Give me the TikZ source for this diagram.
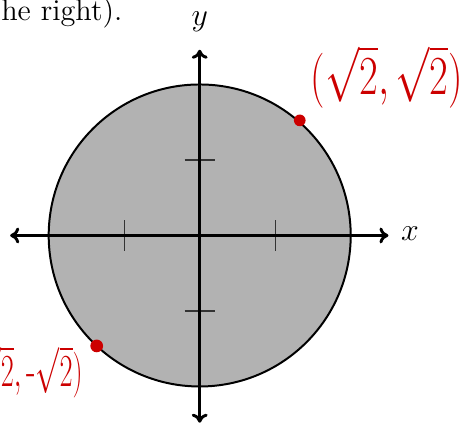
\documentclass[tikz,border=0pt]{standalone}
\usetikzlibrary{arrows.meta}
\definecolor{inkred}{RGB}{204,0,0}
\begin{document}
\begin{tikzpicture}[x=1cm,y=1cm,
  axis/.style={line width=1.1pt,-{To[length=3.4pt,width=6pt]}},
  tickline/.style={line width=0.5pt,draw=black!80},
  disc/.style={line width=0.75pt,draw=black,fill=black!30},
  ink/.style={text=inkred,inner sep=0pt},
  dot/.style={circle,fill=inkred,inner sep=0pt,minimum size=3.6pt},
  lbl/.style={font=\fontsize{11.5}{14}\selectfont,inner sep=0pt}]
\clip (-2.645,-2.497) rectangle (3.633,3.119);
\useasboundingbox (-2.645,-2.497) rectangle (3.633,3.119);
\coordinate (O) at (0,0);
\draw[disc] (O) circle (2);
% ticks
\draw[tickline] (-1,-0.2) -- (-1,0.2);
\draw[tickline] (1,-0.2) -- (1,0.2);
\draw[tickline] (-0.2,1) -- (0.2,1);
\draw[tickline] (-0.2,-1) -- (0.2,-1);
% axes
\coordinate (xl) at (-2.51,0);
\coordinate (xr) at (2.5,0);
\coordinate (yb) at (0,-2.48);
\coordinate (yt) at (0,2.46);
\draw[axis] (O) -- (xl);
\draw[axis] (O) -- (xr);
\draw[axis] (O) -- (yb);
\draw[axis] (O) -- (yt);
\node[lbl] (xlab) at (2.785,0.02) {$x$};
\node[lbl] (ylab) at (0,2.83) {$y$};
% clipped sentence
\node[font=\fontsize{11.4}{13}\selectfont,anchor=base west,inner sep=0pt] (sent) at (-2.635,2.85) {he right).};
% red points and handwriting
\node[dot,minimum size=4.4pt] (p1) at (49:2.02) {};
\node[dot,minimum size=4.8pt] (p2) at (227:2) {};
\node[ink,xscale=0.74,font=\fontsize{21}{24}\selectfont] (t1) at (2.48,2.1) {$(\sqrt{2},\sqrt{2})$};
\node[ink,xscale=0.62,font=\fontsize{19}{22}\selectfont,anchor=east] (t2) at (-1.546,-1.81) {$(\mbox{-}\sqrt{2},\mbox{-}\sqrt{2})$};
\end{tikzpicture}
\end{document}
